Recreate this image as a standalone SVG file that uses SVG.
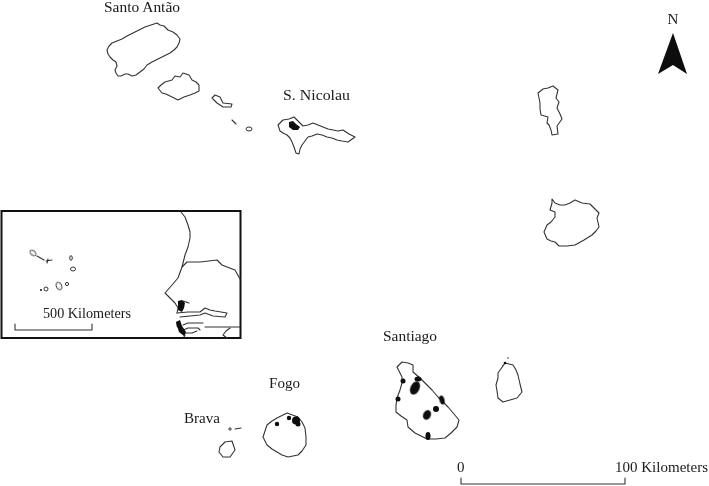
<svg xmlns="http://www.w3.org/2000/svg" width="709" height="486" viewBox="0 0 709 486">
<defs>
<filter id="rough" filterUnits="userSpaceOnUse" x="0" y="0" width="709" height="486"><feTurbulence type="fractalNoise" baseFrequency="0.4" numOctaves="2" seed="4"/><feDisplacementMap in="SourceGraphic" scale="1.400" xChannelSelector="R" yChannelSelector="G"/><feGaussianBlur stdDeviation="0.350"/></filter>
<filter id="soft" filterUnits="userSpaceOnUse" x="0" y="0" width="709" height="486"><feGaussianBlur stdDeviation="0.350"/></filter>
</defs>
<style>
.i{fill:#fff;stroke:#333;stroke-width:1.100;stroke-linejoin:round;filter:url(#rough)}
.s{fill:#fff;stroke:#333;stroke-width:1;filter:url(#soft)}
.l{fill:none;stroke:#333;stroke-width:1.100;stroke-linejoin:round;stroke-linecap:round;filter:url(#soft)}
.b{fill:#0a0a0a;stroke:none;filter:url(#soft)}
text{font-family:"Liberation Serif","Times New Roman",serif;font-size:15px;fill:#1a1a1a;filter:url(#soft)}
</style>
<rect width="709" height="486" fill="#fff"/>
<g id="santo-antao"><polygon class="i" points="157,23 160,25 164,26 168,30 173,32 177,35 180,39 179,43 177,47 174,50 170,53 164,56 158,59 152,62 147,65 144,69 140,72 136,75 132,76 128,74 125,74 121,76 118,76 116,73 115,70 117,66 116,62 113,60 110,57 108,54 107,50 109,46 112,43 117,41 122,39 127,36 133,33 139,30 145,27 151,25"/><text x="104" y="12" textLength="76" lengthAdjust="spacingAndGlyphs">Santo Antão</text></g>
<g id="sao-vicente"><polygon class="i" points="158,88 161,85 165,82 172,80 175,76 180,77 183,73 189,75 192,80 196,82 199,85 199,91 195,93 190,95 184,97 178,100 174,98 170,96 166,94 162,93"/></g>
<g id="santa-luzia"><polygon class="i" points="212,98 215,95 220,97 223,103 232,104 231,107 223,107 217,103"/></g>
<g id="islets-north"><line class="l" x1="232" y1="120" x2="236" y2="124"/><ellipse class="s" cx="249" cy="129" rx="3" ry="2"/></g>
<g id="sao-nicolau"><polygon class="i" points="278,125 283,120 289,119 294,117 299,122 303,126 308,125 313,123 318,125 323,127 328,129 333,130 338,131 343,130 349,134 355,137 348,142 342,141 337,140 332,138 327,137 322,135 317,134 312,136 308,137 305,141 302,145 300,149 299,154 296,153 294,147 292,142 290,138 287,135 283,133 280,131"/><path class="b" d="M289,122 L293,121 L296,124 L300,127 L298,130 L293,130 L289,127Z"/><text x="283" y="100" textLength="67" lengthAdjust="spacingAndGlyphs">S. Nicolau</text></g>
<g id="sal"><polygon class="i" points="538,93 543,89 548,88 553,86 558,90 556,98 559,102 557,108 560,114 562,119 557,126 558,134 552,135 551,130 549,125 547,123 548,117 541,115 540,109 540,103"/></g>
<g id="boa-vista"><polygon class="i" points="552,199 555,203 560,205 565,205 570,203 575,200 582,203 590,204 595,209 599,213 597,218 599,227 596,231 592,235 584,240 575,245 567,246 559,246 555,242 551,241 547,239 544,232 547,225 551,222 555,217 555,212 550,210 552,203"/></g>
<g id="north-arrow"><polygon class="b" points="673,33 658,74 673,65 687,74"/><text x="673" y="24" text-anchor="middle">N</text></g>
<g id="inset">
<rect x="1.500" y="211" width="239" height="127" fill="#fff" stroke="#111" stroke-width="2"/>
<g id="inset-coast">
<polyline class="l" points="181,212 185,217 188,225 190,232 190,238 188,247 185,255 182,267 178,278 172,285 165,293 170,298 175,303 178,308 177,313"/>
<polyline class="l" points="182,267 187,262 200,262 217,260 222,265 227,267 235,270 240,279"/>
<polyline class="l" points="177,313 188,312 200,312 205,308 210,310 215,311 227,313 225,317 213,316 205,313 200,315 190,316 180,317"/>
<polyline class="l" points="177,322 177,326 180,330 185,335 184,337"/>
<polyline class="l" points="183,325 188,323 192,323 203,323"/>
<polyline class="l" points="181,331 188,328 198,328 200,330"/>
<polyline class="l" points="205,327 220,327 240,327"/>
<polyline class="l" points="230,328 226,331 223,335 227,338"/>
<polyline class="l" points="184,333 192,333 197,331"/>
<polyline class="l" points="183,301 189,303"/>
<path class="b" d="M178,301 L182,300 L185,303 L184,308 L182,312 L178,310Z M176,322 L180,320 L182,326 L186,332 L184,336 L179,332Z"/>
</g>
<g id="inset-islands">
<ellipse class="s" cx="33" cy="253" rx="3.500" ry="2.200" transform="rotate(40 33 253)"/>
<line class="l" x1="37" y1="256" x2="44" y2="260"/>
<path class="l" d="M46,261 L52,260 M48,259 L47,263"/>
<ellipse class="s" cx="71" cy="258" rx="1.300" ry="2.300"/>
<ellipse class="s" cx="73" cy="269" rx="2.500" ry="2"/>
<ellipse class="s" cx="59" cy="286" rx="2.600" ry="4" transform="rotate(-25 59 286)"/>
<circle class="s" cx="67" cy="284" r="1.600"/>
<circle class="s" cx="46" cy="289" r="2"/>
<circle class="b" cx="41" cy="290" r="1"/>
</g>
<path class="l" d="M15,324 V330 H92 V324"/>
<text x="43" y="318" textLength="88" lengthAdjust="spacingAndGlyphs">500 Kilometers</text>
</g>
<g id="santiago"><polygon class="i" points="397,367 402,362 408,363 413,365 413,372 420,378 426,384 432,390 438,397 443,402 448,407 454,414 459,420 457,427 451,433 445,438 436,439 427,439 421,436 415,433 408,427 407,420 401,416 396,412 396,405 397,398 400,390 402,383 402,377"/>
<circle class="b" cx="403" cy="381" r="2.500"/><ellipse class="b" cx="418" cy="379" rx="3.500" ry="2.500"/><ellipse class="b" cx="415" cy="388" rx="4.500" ry="7" transform="rotate(25 415 388)"/><circle class="b" cx="398" cy="399" r="2.500"/><ellipse class="b" cx="442" cy="400" rx="2.500" ry="4.500" transform="rotate(-15 442 400)"/><circle class="b" cx="436" cy="409" r="3"/><ellipse class="b" cx="427" cy="415" rx="3.800" ry="5" transform="rotate(25 427 415)"/><ellipse class="b" cx="428" cy="436" rx="2.500" ry="4"/>
<text x="383" y="341" textLength="54" lengthAdjust="spacingAndGlyphs">Santiago</text></g>
<g id="maio"><polygon class="i" points="498,373 505,363 513,365 516,370 518,375 520,384 522,392 517,398 510,400 503,402 498,398 497,391 496,385 498,378"/><circle class="b" cx="505" cy="363" r="1.300"/><circle class="b" cx="508" cy="358" r="0.700"/></g>
<g id="fogo"><polygon class="i" points="287,413 298,417 302,422 305,428 306,437 306,445 302,451 298,455 288,457 282,455 277,452 272,449 267,445 263,437 265,431 267,425 272,421 277,418"/>
<circle class="b" cx="277" cy="424" r="2.200"/><circle class="b" cx="289" cy="418" r="2.200"/><circle class="b" cx="296" cy="420.500" r="4"/><circle class="b" cx="298" cy="424" r="2.500"/>
<text x="269" y="388" textLength="31" lengthAdjust="spacingAndGlyphs">Fogo</text></g>
<g id="brava"><polygon class="i" points="220,447 225,442 232,441 235,450 230,457 223,457 219,452"/><circle class="s" cx="230" cy="429" r="1.200"/><line class="l" x1="235" y1="429" x2="241" y2="428"/><text x="184" y="423" textLength="36" lengthAdjust="spacingAndGlyphs">Brava</text></g>
<g id="scale"><path class="l" d="M461,478 V484 H625 V478"/><text x="457" y="472">0</text><text x="615" y="472" textLength="93" lengthAdjust="spacingAndGlyphs">100 Kilometers</text></g>
</svg>
